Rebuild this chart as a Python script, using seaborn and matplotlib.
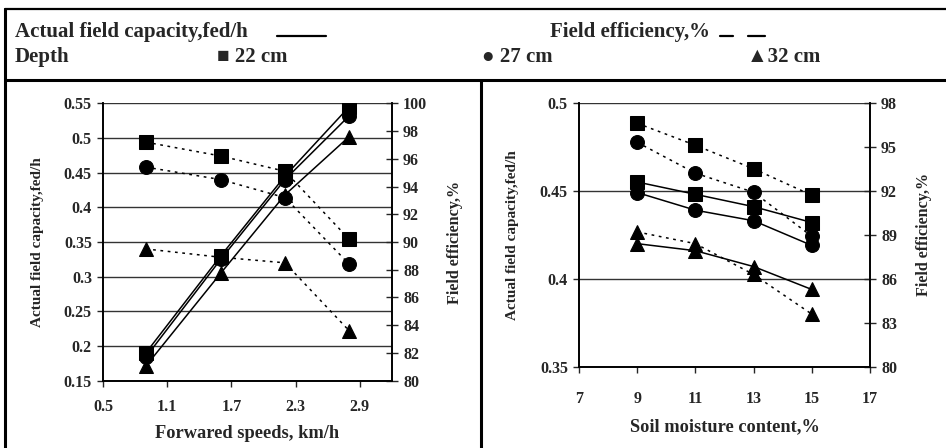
import numpy as np
import pandas as pd
import seaborn as sns
from matplotlib import pyplot as plt
from matplotlib.lines import Line2D

sns.set_style('white')
plt.rcParams['font.family'] = ['Liberation Serif', 'DejaVu Serif']
plt.rcParams['font.weight'] = 'bold'

# data
depths = ['22 cm', '27 cm', '32 cm']

speed = [0.9, 1.6, 2.2, 2.8]
cap_speed_22 = [0.190, 0.330, 0.445, 0.545]
cap_speed_27 = [0.184, 0.325, 0.440, 0.532]
cap_speed_32 = [0.171, 0.305, 0.418, 0.502]
eff_speed_22 = [97.2, 96.2, 95.1, 90.2]
eff_speed_27 = [95.4, 94.5, 93.2, 88.4]
eff_speed_32 = [89.5, 88.9, 88.5, 83.6]

moisture = [9, 11, 13, 15]
cap_moist_22 = [0.455, 0.448, 0.441, 0.432]
cap_moist_27 = [0.449, 0.439, 0.433, 0.419]
cap_moist_32 = [0.420, 0.416, 0.407, 0.394]
eff_moist_22 = [96.6, 95.1, 93.5, 91.7]
eff_moist_27 = [95.3, 93.2, 91.9, 88.9]
eff_moist_32 = [89.2, 88.4, 86.3, 83.6]

speed_ticks = [0.5, 1.1, 1.7, 2.3, 2.9]
moist_ticks = [7, 9, 11, 13, 15, 17]


def longform(x, series):
    rows = []
    for d, vals in zip(depths, series):
        for xi, v in zip(x, vals):
            rows.append({'x': xi, 'y': v, 'Depth': d})
    return pd.DataFrame(rows)


df_cap_speed = longform(speed, [cap_speed_22, cap_speed_27, cap_speed_32])
df_eff_speed = longform(speed, [eff_speed_22, eff_speed_27, eff_speed_32])
df_cap_moist = longform(moisture, [cap_moist_22, cap_moist_27, cap_moist_32])
df_eff_moist = longform(moisture, [eff_moist_22, eff_moist_27, eff_moist_32])

markers = {'22 cm': 's', '27 cm': 'o', '32 cm': '^'}
solid = {d: '' for d in depths}
dotted = {d: (1.8, 3) for d in depths}

W, H = 946, 448
fig = plt.figure(figsize=(W / 100, H / 100), dpi=100)


def px_axes(x0, y0, x1, y1):
    return fig.add_axes([x0 / W, 1 - y1 / H, (x1 - x0) / W, (y1 - y0) / H])


def fig_line(xs, ys, **kw):
    fig.add_artist(Line2D([x / W for x in xs], [1 - y / H for y in ys],
                          transform=fig.transFigure, color='black', **kw))


def draw_panel(ax, cap, eff, xlim, xticks, ylim, yticks, rlim, rticks, xlabel):
    ax2 = ax.twinx()
    sns.lineplot(data=cap, x='x', y='y', style='Depth', markers=markers, dashes=solid,
                 color='black', lw=1.1, markersize=10, markeredgecolor='black',
                 legend=False, ax=ax, zorder=3)
    sns.lineplot(data=eff, x='x', y='y', style='Depth', markers=markers, dashes=dotted,
                 color='black', lw=1.1, markersize=10, markeredgecolor='black',
                 legend=False, ax=ax2, zorder=3)
    ax.set_xlim(*xlim)
    ax.set_xticks(xticks)
    ax.set_xticklabels([f'{t:g}' for t in xticks])
    ax.set_ylim(*ylim)
    ax.set_yticks(yticks)
    ax.set_yticklabels([f'{t:g}' for t in yticks])
    ax2.set_ylim(*rlim)
    ax2.set_yticks(rticks)
    ax.yaxis.grid(True, color='#333333', lw=1.0)
    ax.set_axisbelow(True)
    for a in (ax, ax2):
        a.spines['top'].set_visible(False)
        for s in ('left', 'right', 'bottom'):
            a.spines[s].set_color('black')
            a.spines[s].set_linewidth(1.2)
    ax.tick_params(axis='both', direction='out', length=4, width=1, labelsize=11.5,
                   left=True, bottom=True, pad=4)
    ax.tick_params(axis='x', pad=9)
    ax2.tick_params(axis='y', direction='inout', length=8, width=1, labelsize=11.5,
                    right=True, pad=4)
    for lab in ax.get_xticklabels() + ax.get_yticklabels() + ax2.get_yticklabels():
        lab.set_fontweight('bold')
    ax.set_xlabel(xlabel, fontsize=13.2, fontweight='bold')
    ax.set_ylabel('Actual field capacity,fed/h', fontsize=11, fontweight='bold')
    ax2.set_ylabel('Field efficiency,%', fontsize=11.6, fontweight='bold')
    return ax2


axL = px_axes(103, 103.3, 392, 380.7)
axL2 = draw_panel(axL, df_cap_speed, df_eff_speed, (0.5, 3.2), speed_ticks,
                  (0.15, 0.55), np.arange(0.15, 0.551, 0.05), (80, 100), np.arange(80, 101, 2),
                  'Forwared speeds, km/h')
axL.yaxis.set_label_coords(-0.204, 0.5)
axL2.yaxis.set_label_coords(1.192, 0.5)
axL.xaxis.set_label_coords(0.5, -0.16)

axR = px_axes(579, 102.7, 870, 367)
axR2 = draw_panel(axR, df_cap_moist, df_eff_moist, (7, 17), moist_ticks,
                  (0.35, 0.5), [0.35, 0.4, 0.45, 0.5], (80, 98), np.arange(80, 99, 3),
                  'Soil moisture content,%')
axR.tick_params(axis='x', pad=13)
axR.yaxis.set_label_coords(-0.206, 0.5)
axR2.yaxis.set_label_coords(1.158, 0.5)
axR.xaxis.set_label_coords(0.5, -0.195)

# header box and panel frames
fig_line([5, W], [9, 9], lw=1.6)
fig_line([5, W], [80, 80], lw=2.2)
fig_line([5, 5], [9, H], lw=2.2)
fig_line([481, 481], [80, H], lw=2.2)

hdr = dict(fontsize=15, fontweight='bold', va='center', ha='left')
fig.text(15 / W, 1 - 32 / H, 'Actual field capacity,fed/h', **hdr)
fig_line([277, 326], [36, 36], lw=1.6)
fig.text(550 / W, 1 - 32 / H, 'Field efficiency,%', **hdr)
fig_line([720, 733], [36, 36], lw=1.6)
fig_line([748, 765], [36, 36], lw=1.6)
fig.text(15 / W, 1 - 57 / H, 'Depth', **hdr)
fig.text(217 / W, 1 - 57 / H, '\u25a0 22 cm', **hdr)
fig.text(482 / W, 1 - 57 / H, '\u25cf 27 cm', **hdr)
fig.text(747 / W, 1 - 57 / H, '\u25b232 cm', **hdr)

fig.savefig('out.png', dpi=100)
